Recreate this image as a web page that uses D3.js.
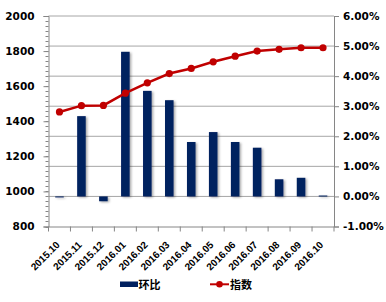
<!DOCTYPE html>
<html>
<head>
<meta charset="utf-8">
<script src="https://cdn.jsdelivr.net/npm/d3@7"></script>
<style>
  body { margin: 0; background: #fff; }
  svg { display: block; }
  .ax text { font-family: "DejaVu Sans", sans-serif; font-weight: bold; fill: #000; }
  .ax text.lab { font-family: "Liberation Sans", Arial, sans-serif; }
</style>
</head>
<body>
<div id="chart"></div>
<script>
// months on the x axis
var months = ["2015.10", "2015.11", "2015.12", "2016.01", "2016.02", "2016.03", "2016.04",
              "2016.05", "2016.06", "2016.07", "2016.08", "2016.09", "2016.10"];
// month-on-month change, percent (bars, right axis)
var huanbi = [-0.03, 2.67, -0.16, 4.81, 3.51, 3.20, 1.81, 2.14, 1.81, 1.62, 0.57, 0.62, 0.03];
// index value (line, left axis)
var zhishu = [1453, 1489, 1490, 1560, 1619, 1672, 1701, 1739, 1771, 1800, 1810, 1819, 1819];
// axis ticks
var leftTicks = [800, 1000, 1200, 1400, 1600, 1800, 2000];
var rightTicks = [-1, 0, 1, 2, 3, 4, 5, 6];

var W = 386, H = 302;
var pLeft = 48.5, pRight = 334, pTop = 16, pBottom = 226.5;

var svg = d3.select('#chart').append('svg')
    .attr('width', W)
    .attr('height', H);

// soft shadow on the bars
var f = svg.append('defs').append('filter')
    .attr('id', 'shadow')
    .attr('x', '-50%').attr('y', '-10%')
    .attr('width', '200%').attr('height', '130%');
f.append('feDropShadow')
    .attr('dx', 1.5).attr('dy', 1)
    .attr('stdDeviation', 0.9)
    .attr('flood-color', '#000')
    .attr('flood-opacity', 0.35);

var x = d3.scaleBand().domain(months).range([pLeft, pRight]);
var yL = d3.scaleLinear().domain([800, 2000]).range([pBottom, pTop]);
var yR = d3.scaleLinear().domain([-1, 6]).range([pBottom, pTop]);

// gridlines follow the right axis
svg.append('g')
  .selectAll('line')
  .data(rightTicks.filter(function(t) { return t > -1; }))
  .join('line')
    .attr('x1', pLeft).attr('x2', pRight)
    .attr('y1', function(d) { return yR(d); })
    .attr('y2', function(d) { return yR(d); })
    .attr('stroke', '#a6a6a6')
    .attr('stroke-width', 1);

// bars
var bw = x.bandwidth() * 0.39;
svg.append('g')
    .attr('filter', 'url(#shadow)')
  .selectAll('rect')
  .data(huanbi)
  .join('rect')
    .attr('x', function(d, i) { return x(months[i]) + (x.bandwidth() - bw) / 2; })
    .attr('y', function(d) { return yR(Math.max(0, d)); })
    .attr('width', bw)
    .attr('height', function(d) { return Math.max(1, Math.abs(yR(d) - yR(0))); })
    .attr('fill', '#00205f');

// left axis with minor ticks
var minor = d3.range(0, 43).map(function(k) { return 800 + k * 200 / 7; });
svg.append('g')
  .selectAll('line')
  .data(minor)
  .join('line')
    .attr('x1', pLeft - 3).attr('x2', pLeft)
    .attr('y1', function(d) { return Math.round(yL(d)) + 0.5; })
    .attr('y2', function(d) { return Math.round(yL(d)) + 0.5; })
    .attr('stroke', '#868686');

var gL = svg.append('g')
    .attr('class', 'ax')
    .attr('transform', 'translate(' + pLeft + ',0)')
    .call(d3.axisLeft(yL).tickValues(leftTicks).tickSize(5).tickPadding(9)
      .tickFormat(d3.format('d')));
gL.selectAll('text').style('font-size', '10.5px');

var gR = svg.append('g')
    .attr('class', 'ax')
    .attr('transform', 'translate(' + pRight + ',0)')
    .call(d3.axisRight(yR).tickValues(rightTicks).tickSize(5).tickPadding(4)
      .tickFormat(function(d) { return d.toFixed(2) + '%'; }));
gR.selectAll('text').style('font-size', '10.5px');

var gX = svg.append('g')
    .attr('class', 'ax')
    .attr('transform', 'translate(0,' + pBottom + ')')
    .call(d3.axisBottom(x).tickSize(0).tickFormat(''));
// x ticks sit on the band edges
gX.selectAll('.edge')
  .data(months.concat(['end']))
  .join('line')
    .attr('class', 'edge')
    .attr('x1', function(d, i) { return pLeft + i * x.step(); })
    .attr('x2', function(d, i) { return pLeft + i * x.step(); })
    .attr('y1', 0).attr('y2', 5)
    .attr('stroke', '#868686');
gX.selectAll('.lab')
  .data(months)
  .join('text')
    .attr('class', 'lab')
    .attr('text-anchor', 'end')
    .attr('transform', function(d) {
      return 'translate(' + (x(d) + x.bandwidth() / 2 + 1) + ',19) rotate(-45)';
    })
    .style('font-size', '10px')
    .text(function(d) { return d; });

svg.selectAll('.ax .domain').attr('stroke', '#868686');
svg.selectAll('.ax .tick line').attr('stroke', '#868686');

// index line
var line = d3.line()
    .x(function(d, i) { return x(months[i]) + x.bandwidth() / 2; })
    .y(function(d) { return yL(d); });
svg.append('path')
    .datum(zhishu)
    .attr('d', line)
    .attr('fill', 'none')
    .attr('stroke', '#c00000')
    .attr('stroke-width', 2.5);
svg.append('g')
  .selectAll('circle')
  .data(zhishu)
  .join('circle')
    .attr('cx', function(d, i) { return x(months[i]) + x.bandwidth() / 2; })
    .attr('cy', function(d) { return yL(d); })
    .attr('r', 3.6)
    .attr('fill', '#c00000');

// legend
var lg = svg.append('g')
    .style('font-family', '"Noto Sans CJK SC", sans-serif')
    .style('font-size', '11px')
    .style('font-weight', 'bold');
lg.append('rect')
    .attr('x', 120).attr('y', 281.5)
    .attr('width', 18).attr('height', 5.5)
    .attr('fill', '#00205f');
lg.append('text')
    .attr('x', 138.5).attr('y', 288.5)
    .text('环比');
lg.append('line')
    .attr('x1', 210).attr('x2', 229)
    .attr('y1', 284.3).attr('y2', 284.3)
    .attr('stroke', '#c00000').attr('stroke-width', 2);
lg.append('circle')
    .attr('cx', 219.5).attr('cy', 284.3).attr('r', 3.3)
    .attr('fill', '#c00000');
lg.append('text')
    .attr('x', 230).attr('y', 288.5)
    .text('指数');
</script>
</body>
</html>
